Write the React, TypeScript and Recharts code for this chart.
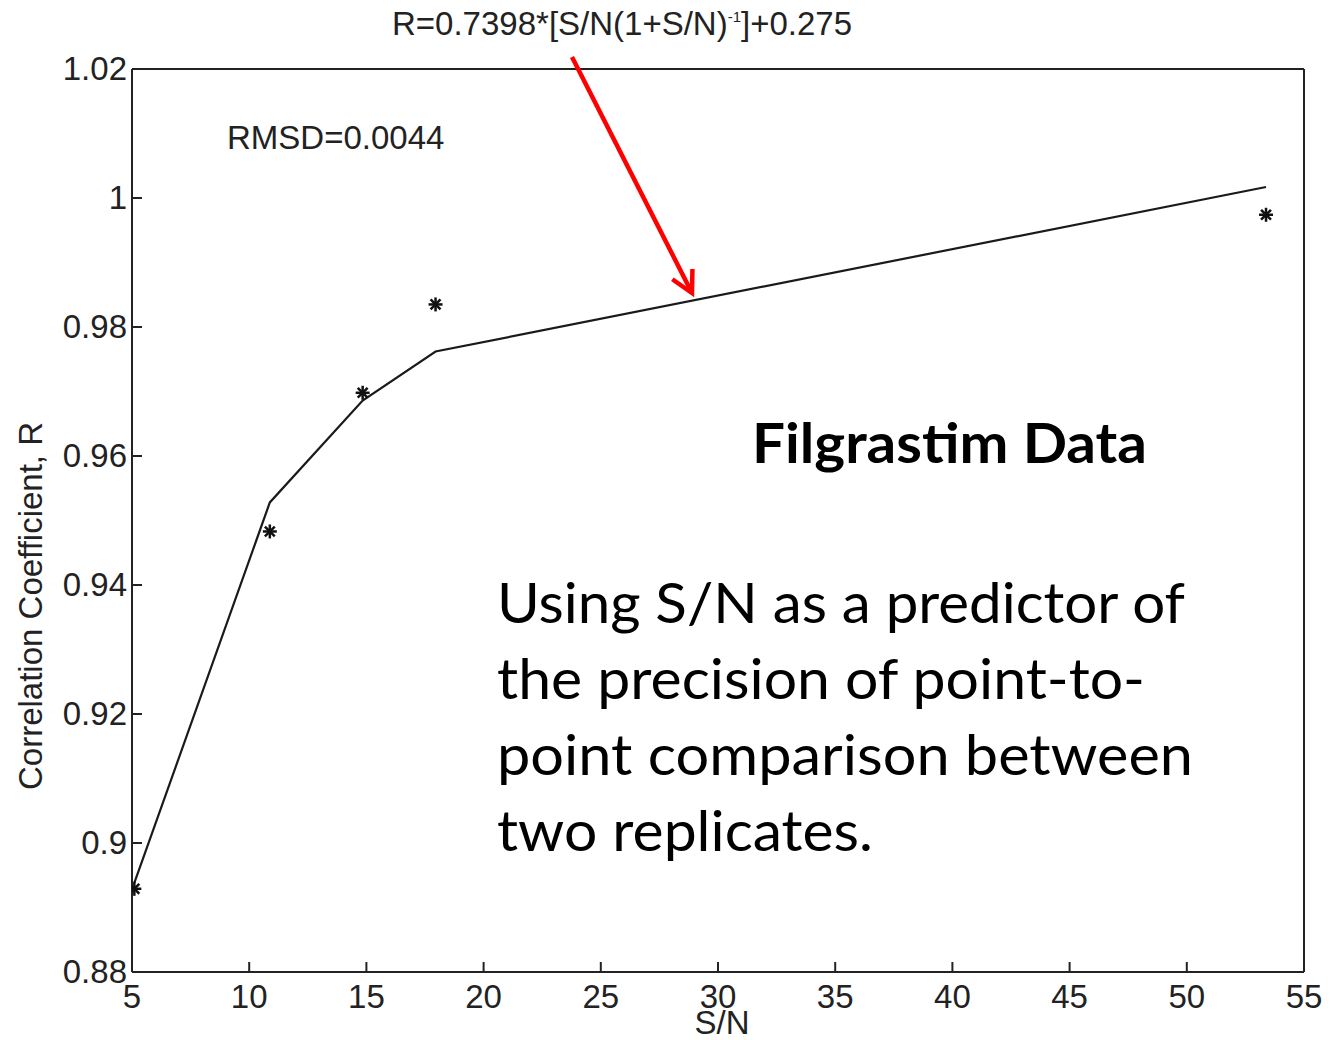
import React from "react";
import { ComposedChart, Line, Scatter, XAxis, YAxis } from "recharts";

// S/N values of the five samples
const sn = [5.1, 10.88, 14.84, 17.95, 53.38];
// measured correlation coefficients (stars)
const measuredR = [0.8929, 0.9483, 0.9698, 0.9835, 0.9974];
// fitted curve R=0.7398*[S/N(1+S/N)^-1]+0.275
const fitR = [0.8938, 0.9528, 0.9686, 0.9762, 1.0017];

const xTicks = [5, 10, 15, 20, 25, 30, 35, 40, 45, 50, 55];
const yTicks = [0.88, 0.9, 0.92, 0.94, 0.96, 0.98, 1, 1.02];

const bodyLines = [
    "Using S/N as a predictor of",
    "the precision of point-to-",
    "point comparison between",
    "two replicates.",
];
const bodyWidths = [688, 648, 696, 376];

const measured = sn.map((s, i) => ({ sn: s, r: measuredR[i] }));
const fit = sn.map((s, i) => ({ sn: s, r: fitR[i] }));

const AX = "#222";
const FONT = "'Liberation Sans', Arial, sans-serif";
const FS = 33;
const TL = 10;

const fmt = (v: number) => String(parseFloat(v.toFixed(2)));

const BottomTick = (p: any) => (
    <g>
        <line x1={p.x} y1={p.y} x2={p.x} y2={p.y - TL} stroke={AX} strokeWidth={2} />
        <text x={p.x} y={p.y + 36} textAnchor="middle" fontSize={FS} fontFamily={FONT} fill="#222">
            {p.payload.value}
        </text>
    </g>
);
const TopTick = (p: any) => (
    <line x1={p.x} y1={p.y} x2={p.x} y2={p.y + TL} stroke={AX} strokeWidth={2} />
);
const LeftTick = (p: any) => (
    <g>
        <line x1={p.x} y1={p.y} x2={p.x + TL} y2={p.y} stroke={AX} strokeWidth={2} />
        <text x={p.x - 5} y={p.y + 11} textAnchor="end" fontSize={FS} fontFamily={FONT} fill="#222">
            {fmt(p.payload.value)}
        </text>
    </g>
);
const RightTick = (p: any) => (
    <line x1={p.x} y1={p.y} x2={p.x - TL} y2={p.y} stroke={AX} strokeWidth={2} />
);

const Star = (p: any) => {
    const { cx, cy } = p;
    const r = 7;
    const d = r * 0.707;
    return (
        <g stroke="#111" strokeWidth={2.5}>
            <line x1={cx - r} y1={cy} x2={cx + r} y2={cy} />
            <line x1={cx} y1={cy - r} x2={cx} y2={cy + r} />
            <line x1={cx - d} y1={cy - d} x2={cx + d} y2={cy + d} />
            <line x1={cx - d} y1={cy + d} x2={cx + d} y2={cy - d} />
        </g>
    );
};

function Arrow({ x1, y1, x2, y2 }: { x1: number; y1: number; x2: number; y2: number }) {
    const a = Math.atan2(y1 - y2, x1 - x2);
    const len = 24;
    const s = (28 * Math.PI) / 180;
    const p1 = [x2 + len * Math.cos(a + s), y2 + len * Math.sin(a + s)];
    const p2 = [x2 + len * Math.cos(a - s), y2 + len * Math.sin(a - s)];
    return (
        <g stroke="#ff0000" strokeWidth={4.5} fill="none" strokeLinecap="butt">
            <line x1={x1} y1={y1} x2={x2} y2={y2} />
            <polyline points={`${p1[0]},${p1[1]} ${x2},${y2} ${p2[0]},${p2[1]}`} />
        </g>
    );
}

export default function App() {
    return (
        <div style={{ position: "absolute", left: 0, top: 0, width: 1330, height: 1040, background: "#fff" }}>
            <ComposedChart
                width={1330}
                height={1040}
                margin={{ top: 39, right: 16, bottom: 38, left: 72 }}
            >
                <XAxis
                    xAxisId="b"
                    dataKey="sn"
                    type="number"
                    domain={[5, 55]}
                    ticks={xTicks}
                    allowDataOverflow
                    height={30}
                    tickSize={0}
                    tickMargin={0}
                    tickLine={false}
                    axisLine={{ stroke: AX, strokeWidth: 2 }}
                    tick={<BottomTick />}
                />
                <XAxis
                    xAxisId="t"
                    orientation="top"
                    dataKey="sn"
                    type="number"
                    domain={[5, 55]}
                    ticks={xTicks}
                    height={30}
                    tickSize={0}
                    tickMargin={0}
                    tickLine={false}
                    axisLine={{ stroke: AX, strokeWidth: 2 }}
                    tick={<TopTick />}
                />
                <YAxis
                    yAxisId="l"
                    type="number"
                    domain={[0.88, 1.02]}
                    ticks={yTicks}
                    allowDataOverflow
                    width={60}
                    tickSize={0}
                    tickMargin={0}
                    tickLine={false}
                    axisLine={{ stroke: AX, strokeWidth: 2 }}
                    tick={<LeftTick />}
                />
                <YAxis
                    yAxisId="r"
                    orientation="right"
                    type="number"
                    domain={[0.88, 1.02]}
                    ticks={yTicks}
                    width={10}
                    tickSize={0}
                    tickMargin={0}
                    tickLine={false}
                    axisLine={{ stroke: AX, strokeWidth: 2 }}
                    tick={<RightTick />}
                />
                <Line
                    xAxisId="b"
                    yAxisId="l"
                    data={fit}
                    dataKey="r"
                    type="linear"
                    stroke="#1a1a1a"
                    strokeWidth={2.2}
                    dot={false}
                    activeDot={false}
                    isAnimationActive={false}
                />
                <Scatter
                    xAxisId="b"
                    yAxisId="l"
                    data={measured}
                    dataKey="r"
                    shape={<Star />}
                    isAnimationActive={false}
                />
            </ComposedChart>
            <svg
                width={1330}
                height={1040}
                style={{ position: "absolute", left: 0, top: 0, pointerEvents: "none" }}
            >
                <text x={392} y={35} fontSize={FS} fontFamily={FONT} fill="#222">
                    R=0.7398*[S/N(1+S/N)
                    <tspan dy={-13} fontSize={15}>-1</tspan>
                    <tspan dy={13}>]+0.275</tspan>
                </text>
                <text x={227} y={149} fontSize={FS} fontFamily={FONT} fill="#222">
                    RMSD=0.0044
                </text>
                <text
                    x={30}
                    y={606}
                    transform="rotate(-90 30 606)"
                    textAnchor="middle"
                    dominantBaseline="central"
                    fontSize={FS}
                    fontFamily={FONT}
                    fill="#222"
                >
                    Correlation Coefficient, R
                </text>
                <text x={722} y={1034} textAnchor="middle" fontSize={FS} fontFamily={FONT} fill="#222">
                    S/N
                </text>
                <text
                    x={752}
                    y={463}
                    fontSize={56}
                    fontWeight="bold"
                    fontFamily="Lato, 'Open Sans', sans-serif"
                    textLength={395}
                    lengthAdjust="spacingAndGlyphs"
                    fill="#000"
                >
                    Filgrastim Data
                </text>
                {bodyLines.map((t, i) => (
                    <text
                        key={i}
                        x={497}
                        y={623 + i * 76}
                        fontSize={57}
                        fontFamily="Lato, 'Open Sans', sans-serif"
                        textLength={bodyWidths[i]}
                        lengthAdjust="spacingAndGlyphs"
                        fill="#000"
                    >
                        {t}
                    </text>
                ))}
                <Arrow x1={572} y1={57} x2={692} y2={293} />
            </svg>
        </div>
    );
}
